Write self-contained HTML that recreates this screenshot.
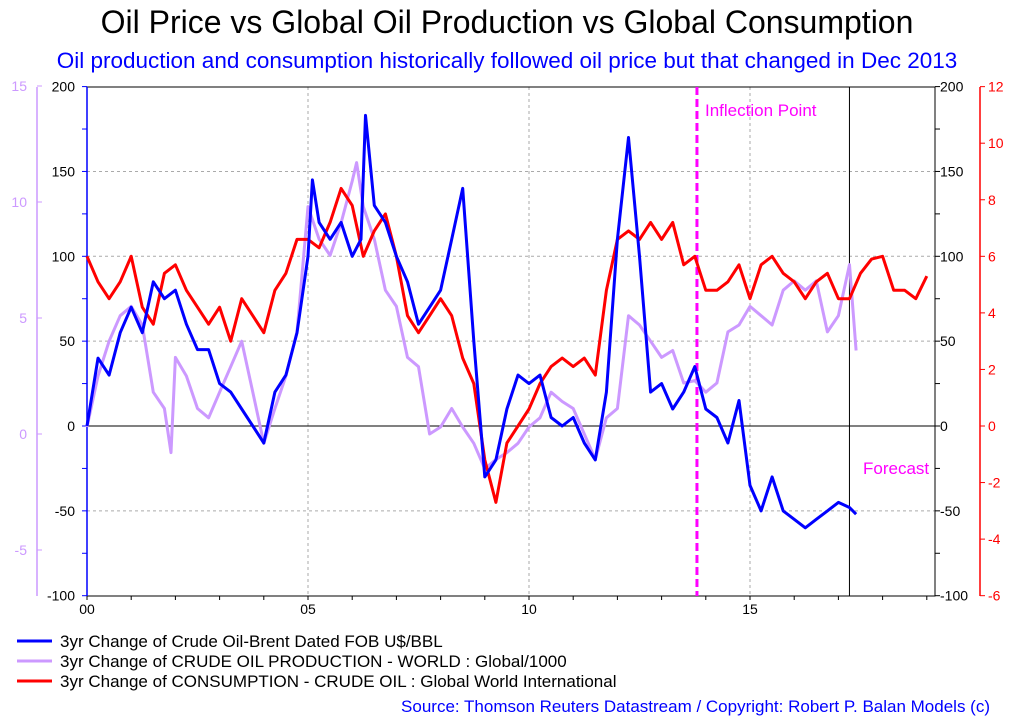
<!DOCTYPE html>
<html><head><meta charset="utf-8">
<style>
body{margin:0;background:#fff;font-family:"Liberation Sans",sans-serif;}
</style></head>
<body>
<svg width="1015" height="717" xmlns="http://www.w3.org/2000/svg" font-family="Liberation Sans, sans-serif">
<text x="507" y="33" font-size="32" text-anchor="middle" fill="#000">Oil Price vs Global Oil Production vs Global Consumption</text>
<text x="507" y="68" font-size="22.5" text-anchor="middle" fill="#0000ff">Oil production and consumption historically followed oil price but that changed in Dec 2013</text>
<g id="axes"></g>
<g id="series"></g>
<g>
<line x1="17" y1="641" x2="52" y2="641" stroke="#0000ff" stroke-width="3"/>
<text x="60" y="647" font-size="17">3yr Change of Crude Oil-Brent Dated FOB U$/BBL</text>
<line x1="17" y1="661" x2="52" y2="661" stroke="#cc99ff" stroke-width="3"/>
<text x="60" y="667" font-size="17">3yr Change of CRUDE OIL PRODUCTION - WORLD : Global/1000</text>
<line x1="17" y1="681" x2="52" y2="681" stroke="#ff0000" stroke-width="3"/>
<text x="60" y="687" font-size="17">3yr Change of CONSUMPTION - CRUDE OIL : Global World International</text>
</g>
<text x="990" y="712" font-size="17" text-anchor="end" fill="#0000ff">Source: Thomson Reuters Datastream / Copyright: Robert P. Balan Models (c)</text>
</svg>
<script>
const brentT=[2000,2000.25,2000.5,2000.75,2001,2001.25,2001.5,2001.75,2002,2002.25,2002.5,2002.75,2003,2003.25,2003.5,2003.75,2004,2004.25,2004.5,2004.75,2005,2005.1,2005.25,2005.5,2005.75,2006,2006.2,2006.3,2006.5,2006.75,2007,2007.25,2007.5,2007.75,2008,2008.25,2008.5,2008.75,2009,2009.25,2009.5,2009.75,2010,2010.25,2010.5,2010.75,2011,2011.25,2011.5,2011.75,2012,2012.25,2012.5,2012.75,2013,2013.25,2013.5,2013.75,2014,2014.25,2014.5,2014.75,2015,2015.25,2015.5,2015.75,2016,2016.25,2016.5,2016.75,2017,2017.25,2017.4];
const brentV=[0,40,30,55,70,55,85,75,80,60,45,45,25,20,10,0,-10,20,30,55,100,145,120,110,120,100,110,183,130,120,100,85,60,70,80,110,140,50,-30,-20,10,30,25,30,5,0,5,-10,-20,20,110,170,100,20,25,10,20,35,10,5,-10,15,-35,-50,-30,-50,-55,-60,-55,-50,-45,-48,-52];
const prodT=[2000,2000.25,2000.5,2000.75,2001,2001.25,2001.5,2001.75,2001.9,2002,2002.25,2002.5,2002.75,2003,2003.25,2003.5,2003.75,2004,2004.25,2004.5,2004.75,2005,2005.25,2005.5,2005.75,2006,2006.1,2006.25,2006.5,2006.75,2007,2007.25,2007.5,2007.75,2008,2008.25,2008.5,2008.75,2009,2009.25,2009.5,2009.75,2010,2010.25,2010.5,2010.75,2011,2011.25,2011.5,2011.75,2012,2012.25,2012.5,2012.75,2013,2013.25,2013.5,2013.75,2014,2014.25,2014.5,2014.75,2015,2015.25,2015.5,2015.75,2016,2016.25,2016.5,2016.75,2017,2017.25,2017.4];
const prodV=[0.3,2.5,4.0,5.1,5.5,4.7,1.8,1.1,-0.8,3.3,2.5,1.1,0.7,1.8,2.9,4.0,1.8,-0.4,1.1,2.5,4.4,9.8,8.4,7.7,9.1,10.9,11.7,9.8,8.4,6.2,5.5,3.3,2.9,0,0.3,1.1,0.3,-0.4,-1.5,-1.1,-0.8,-0.4,0.3,0.7,1.8,1.4,1.1,0,-1.1,0.7,1.1,5.1,4.7,4.0,3.3,3.6,2.2,2.3,1.8,2.2,4.4,4.7,5.5,5.1,4.7,6.2,6.6,6.2,6.6,4.4,5.1,7.3,3.6];
const consT=[2000,2000.25,2000.5,2000.75,2001,2001.25,2001.5,2001.75,2002,2002.25,2002.5,2002.75,2003,2003.25,2003.5,2003.75,2004,2004.25,2004.5,2004.75,2005,2005.25,2005.5,2005.75,2006,2006.25,2006.5,2006.75,2007,2007.25,2007.5,2007.75,2008,2008.25,2008.5,2008.75,2009,2009.25,2009.5,2009.75,2010,2010.25,2010.5,2010.75,2011,2011.25,2011.5,2011.75,2012,2012.25,2012.5,2012.75,2013,2013.25,2013.5,2013.75,2014,2014.25,2014.5,2014.75,2015,2015.25,2015.5,2015.75,2016,2016.25,2016.5,2016.75,2017,2017.25,2017.5,2017.75,2018,2018.25,2018.5,2018.75,2019];
const consV=[6.0,5.1,4.5,5.1,6.0,4.2,3.6,5.4,5.7,4.8,4.2,3.6,4.2,3.0,4.5,3.9,3.3,4.8,5.4,6.6,6.6,6.3,7.2,8.4,7.8,6.0,6.9,7.5,6.0,3.9,3.3,3.9,4.5,3.9,2.4,1.5,-1.2,-2.7,-0.6,0,0.6,1.5,2.1,2.4,2.1,2.4,1.8,4.8,6.6,6.9,6.6,7.2,6.6,7.2,5.7,6.0,4.8,4.8,5.1,5.7,4.5,5.7,6.0,5.4,5.1,4.5,5.1,5.4,4.5,4.5,5.4,5.9,6.0,4.8,4.8,4.5,5.3];
const midTicks=[200,150,100,50,0,-50,-100];
const leftTicks=[15,10,5,0,-5];
const rightTicks=[12,10,8,6,4,2,0,-2,-4,-6];
const xTicks=[2000,2005,2010,2015];
const xTickLabels=["00","05","10","15"];

const NS="http://www.w3.org/2000/svg";
const X0=87,X1=935,Y0=87,Y1=596;
const x=t=>X0+(t-2000)*44.2;
const yMid=v=>426-v*1.697;
const yLeft=v=>434-v*23.2;
const yRight=v=>426-v*28.28;
function mk(tag,attrs,parent,txt){const e=document.createElementNS(NS,tag);for(const k in attrs)e.setAttribute(k,attrs[k]);if(txt!==undefined)e.textContent=txt;parent.appendChild(e);return e;}
const ax=document.getElementById('axes'), se=document.getElementById('series');
[150,100,50,-50].forEach(v=>{const g=mk('line',{x1:X0,x2:X1,y1:yMid(v),y2:yMid(v),stroke:'#aaa','stroke-dasharray':'3,3','stroke-width':1},ax);

});
[2005,2010,2015].forEach(t=>{const g=mk('line',{x1:x(t),x2:x(t),y1:Y0,y2:Y1,stroke:'#aaa','stroke-dasharray':'3,3','stroke-width':1},ax);

});
const zl=mk('line',{x1:X0,x2:X1,y1:yMid(0),y2:yMid(0),stroke:'#000','stroke-width':1},ax);


const fr=mk('rect',{x:X0,y:Y0,width:X1-X0,height:Y1-Y0,fill:'none',stroke:'#000','stroke-width':1},ax);


mk('line',{x1:X0,x2:X0,y1:Y0,y2:Y1,stroke:'#0000ff','stroke-width':1.5},ax);
midTicks.forEach(v=>{
 const a=mk('text',{x:X0-12,y:yMid(v)+5,'font-size':14,'text-anchor':'end'},ax,String(v));
 
 
 const b=mk('text',{x:X1+5,y:yMid(v)+5,'font-size':14},ax,String(v));
 
 
});
for(let v=-100;v<=200;v+=25){mk('line',{x1:X0-5,x2:X0,y1:yMid(v),y2:yMid(v),stroke:'#0000ff'},ax);mk('line',{x1:X1,x2:X1+5,y1:yMid(v),y2:yMid(v),stroke:'#000'},ax);}
mk('line',{x1:37,x2:37,y1:Y0,y2:Y1,stroke:'#cc99ff','stroke-width':1.5},ax);
leftTicks.forEach(v=>{const a=mk('text',{x:27,y:yLeft(v)+5,'font-size':14,'text-anchor':'end',fill:'#cc99ff'},ax,String(v));


mk('line',{x1:37,x2:42,y1:yLeft(v),y2:yLeft(v),stroke:'#cc99ff'},ax);});
mk('line',{x1:980,x2:980,y1:Y0,y2:Y1,stroke:'#ff0000','stroke-width':1.5},ax);
rightTicks.forEach(v=>{const a=mk('text',{x:988,y:yRight(v)+5,'font-size':14,fill:'#ff0000'},ax,String(v));


mk('line',{x1:980,x2:985,y1:yRight(v),y2:yRight(v),stroke:'#ff0000'},ax);});
xTicks.forEach((t,i)=>{const a=mk('text',{x:x(t),y:Y1+18,'font-size':14,'text-anchor':'middle'},ax,xTickLabels[i]);

});
for(let t=2000;t<=2019;t++)mk('line',{x1:x(t),x2:x(t),y1:Y1,y2:Y1+4,stroke:'#000'},ax);
const fl=mk('line',{x1:x(2017.25),x2:x(2017.25),y1:Y0,y2:Y1,stroke:'#000','stroke-width':1},ax);


const il=mk('line',{x1:x(2013.8),x2:x(2013.8),y1:Y0,y2:Y1,stroke:'#ff00ff','stroke-width':3,'stroke-dasharray':'8,4'},ax);


const it=mk('text',{x:705,y:116,'font-size':17,fill:'#ff00ff'},ax,'Inflection Point');


const ft=mk('text',{x:863,y:474,'font-size':17,fill:'#ff00ff'},ax,'Forecast');


function line(T,V,yf,color,name){const d=T.map((t,i)=>(i?'L':'M')+x(t).toFixed(1)+','+yf(V[i]).toFixed(1)).join('');
 const p=mk('path',{d:d,fill:'none',stroke:color,'stroke-width':3,'stroke-linejoin':'round'},se);
 
 }
line(prodT,prodV,yLeft,'#cc99ff','production-line');
line(consT,consV,yRight,'#ff0000','consumption-line');
line(brentT,brentV,yMid,'#0000ff','brent-line');
</script>
</body></html>
